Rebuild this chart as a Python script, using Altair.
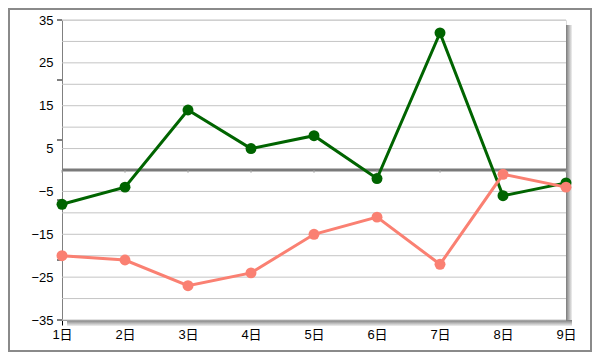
import altair as alt
import pandas as pd

days = ["1日", "2日", "3日", "4日", "5日", "6日", "7日", "8日", "9日"]
green_vals = [-8, -4, 14, 5, 8, -2, 32, -6, -3]
red_vals = [-20, -21, -27, -24, -15, -11, -22, -1, -4]
series_names = ["A", "B"]
series_colors = ["#006400", "#FA8072"]
y_label_values = [35, 25, 15, 5, -5, -15, -25, -35]
y_tick_values = [35, 21, 7, -7, -21, -35]
grid_values = list(range(-35, 40, 5))

W, H = 504, 300
PAD = {"left": 54, "top": 12, "right": 26, "bottom": 32}

df = pd.DataFrame({
    "day": days * 2,
    "value": green_vals + red_vals,
    "series": [series_names[0]] * len(days) + [series_names[1]] * len(days),
})
grid_df = pd.DataFrame({"g": grid_values})
tick_df = pd.DataFrame({"t": y_tick_values})
zero_df = pd.DataFrame({"z": [0]})
zero_ticks_df = pd.DataFrame({"day": days, "z": [0] * len(days)})
one = pd.DataFrame({"a": [0]})

yscale = alt.Scale(domain=[-35, 35], nice=False, zero=False)
xscale = alt.Scale(domain=days, padding=0)
FONT = "Liberation Sans, Noto Sans CJK JP"


def Y(field):
    return alt.Y(field, type="quantitative", scale=yscale, title="",
                 axis=alt.Axis(values=y_label_values, ticks=False, grid=False,
                               domainColor="#808080", labelFontSize=13,
                               labelColor="black", labelPadding=9, labelFont=FONT,
                               title=""))


xaxis = alt.Axis(labelAngle=0, tickColor="black", tickSize=5, domainColor="#707070",
                 labelFontSize=13, labelColor="black", labelPadding=3,
                 labelFont=FONT, title="", grid=False)


def X():
    return alt.X("day:O", scale=xscale, axis=xaxis, sort=days)


grad_h = alt.LinearGradient(gradient="linear", x1=0, x2=1, y1=0, y2=0,
                            stops=[alt.GradientStop(color="#7a7a7a", offset=0),
                                   alt.GradientStop(color="#f0f0f0", offset=1)])
grad_v = alt.LinearGradient(gradient="linear", x1=0, x2=0, y1=0, y2=1,
                            stops=[alt.GradientStop(color="#7a7a7a", offset=0),
                                   alt.GradientStop(color="#f0f0f0", offset=1)])

shadow_r = alt.Chart(one).mark_rect(fill=grad_h).encode(
    x=alt.value(W), x2=alt.value(W + 6), y=alt.value(5), y2=alt.value(H + 6))
shadow_b = alt.Chart(one).mark_rect(fill=grad_v).encode(
    x=alt.value(5), x2=alt.value(W + 6), y=alt.value(H), y2=alt.value(H + 6))
border = alt.Chart(one).mark_rect(fillOpacity=0, stroke="#8a8a8a", strokeWidth=2).encode(
    x=alt.value(-PAD["left"] + 1), x2=alt.value(W + PAD["right"] - 1),
    y=alt.value(-PAD["top"] + 1), y2=alt.value(H + PAD["bottom"] - 1))

grid = alt.Chart(grid_df).mark_rule(color="#c4c4c4", strokeWidth=1).encode(y=Y("g"))
yticks = alt.Chart(tick_df).mark_rule(color="black", strokeWidth=1).encode(
    y=Y("t"), x=alt.value(-5), x2=alt.value(0))
zero_line = alt.Chart(zero_df).mark_rule(color="#7a7a7a", strokeWidth=3).encode(y=Y("z"))
zero_ticks = alt.Chart(zero_ticks_df).mark_point(shape="M0,0L0,1", size=30, filled=False,
                                                 stroke="#a0a0a0", strokeWidth=1,
                                                 opacity=1).encode(x=X(), y=Y("z"))

color = alt.Color("series:N", scale=alt.Scale(domain=series_names, range=series_colors),
                  legend=None)
base = alt.Chart(df).encode(
    x=X(),
    y=Y("value"),
    color=color,
    detail="series:N",
)
lines = base.mark_line(strokeWidth=3)
points = base.mark_circle(size=120, opacity=1)

layers = [shadow_r, shadow_b, border, grid, yticks, zero_line, zero_ticks]
for s in series_names:
    layers.append(lines.transform_filter(alt.datum.series == s))
    layers.append(points.transform_filter(alt.datum.series == s))

chart = alt.layer(*layers).properties(
    width=W, height=H,
    autosize=alt.AutoSizeParams(type="none"),
    padding=PAD,
).configure_view(stroke=None, fill="#f4f4f4").configure(background="white")

chart.save("out.html", embed_options={"renderer": "svg", "actions": False})
